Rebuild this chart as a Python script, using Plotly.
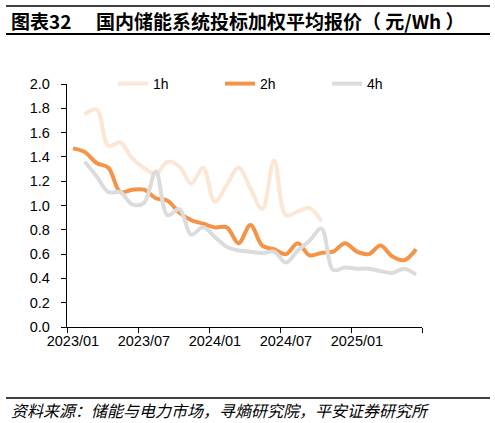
import plotly.graph_objects as go

# monthly categories, 2023/01 .. 2025/06
months = [f"{y}/{m:02d}" for y in (2023, 2024, 2025) for m in range(1, 13)][:30]
tick_labels = ["2023/01", "2023/07", "2024/01", "2024/07", "2025/01"]

# 元/Wh (None = no value that month)
price_1h = [None, 1.75, 1.79, 1.49, 1.52, 1.39, 1.31, 1.26, 1.36, 1.32,
            1.18, 1.31, 1.03, 1.17, 1.31, 1.14, 0.97, 1.37, 0.92, 0.95,
            0.98, 0.87, None, None, None, None, None, None, None, None]
price_2h = [1.47, 1.44, 1.35, 1.31, 1.11, 1.13, 1.13, 1.06, 1.04, 0.94,
            0.88, 0.85, 0.82, 0.82, 0.69, 0.84, 0.67, 0.64, 0.60, 0.69,
            0.59, 0.61, 0.62, 0.69, 0.62, 0.60, 0.67, 0.58, 0.55, 0.64]
price_4h = [None, 1.36, 1.24, 1.11, 1.11, 1.01, 1.02, 1.28, 0.92, 0.97,
            0.76, 0.82, 0.74, 0.66, 0.63, 0.62, 0.61, 0.62, 0.53, 0.63,
            0.71, 0.81, 0.47, 0.49, 0.48, 0.48, 0.46, 0.445, 0.48, 0.43]

SERIES = [
    ("1h", price_1h, "#FCE6D4"),
    ("2h", price_2h, "#F59447"),
    ("4h", price_4h, "#DCDCDC"),
]

W, H = 495, 423
L, R, T, B = 67, 73, 84, 96
PW, PH = W - L - R, H - T - B


def px(x):
    return (x - L) / PW


def py(y):
    return (H - B - y) / PH


FONT = "Liberation Sans, Arial, Noto Sans CJK SC, sans-serif"
CJK = "Noto Sans CJK SC, sans-serif"

xs = list(range(len(months)))

fig = go.Figure()
for name, vals, color in SERIES:
    fig.add_trace(go.Scatter(
        x=xs, y=vals, name=name, mode="lines",
        line=dict(color=color, width=4, shape="spline", smoothing=1),
        connectgaps=False,
    ))

fig.update_layout(
    width=W, height=H,
    margin=dict(l=L, r=R, t=T, b=B),
    paper_bgcolor="white", plot_bgcolor="white",
    font=dict(family=FONT, size=14, color="black"),
    showlegend=True,
    legend=dict(
        orientation="h", x=px(113), y=py(84), xanchor="left", yanchor="middle",
        entrywidth=62, entrywidthmode="pixels",
        font=dict(size=14), bgcolor="rgba(0,0,0,0)", tracegroupgap=0,
    ),
)

fig.update_xaxes(
    range=[-0.5, len(months) - 0.5],
    tickmode="array",
    tickvals=[months.index(t) for t in tick_labels],
    ticktext=tick_labels,
    ticks="", showgrid=False, zeroline=False,
    showline=True, linecolor="black", linewidth=1.3,
    tickfont=dict(size=14.5),
    minor=dict(tick0=-0.5, dtick=6, ticks="outside", ticklen=5,
               tickwidth=1.3, tickcolor="black", showgrid=False),
)
fig.update_yaxes(
    range=[0, 2.0], dtick=0.2, tickformat=".1f",
    ticks="outside", ticklen=5, tickwidth=1.3, tickcolor="black",
    ticklabelstandoff=8,
    showgrid=False, zeroline=False,
    showline=True, linecolor="black", linewidth=1.3,
    tickfont=dict(size=14.5),
)

# header and footer rules
for y, w in ((6, 1.5), (34, 2.2), (398, 1.5)):
    fig.add_shape(type="line", xref="paper", yref="paper",
                  x0=px(6), x1=px(490), y0=py(y), y1=py(y),
                  line=dict(color="black", width=w))

fig.add_annotation(text="<b>图表32</b>", xref="paper", yref="paper",
                   x=px(9), y=py(20), xanchor="left", yanchor="middle",
                   showarrow=False, font=dict(family=CJK, size=19))
fig.add_annotation(text="<b>国内储能系统投标加权平均报价（ 元/Wh ）</b>",
                   xref="paper", yref="paper",
                   x=px(94), y=py(20), xanchor="left", yanchor="middle",
                   showarrow=False, font=dict(family=CJK, size=19))
fig.add_annotation(text="<i>资料来源：储能与电力市场，寻熵研究院，平安证券研究所</i>",
                   xref="paper", yref="paper",
                   x=px(9), y=py(410), xanchor="left", yanchor="middle",
                   showarrow=False, font=dict(family=CJK, size=16))

fig.write_html("out.html", config={"displayModeBar": False},
               post_script="document.body.style.margin='0';")
